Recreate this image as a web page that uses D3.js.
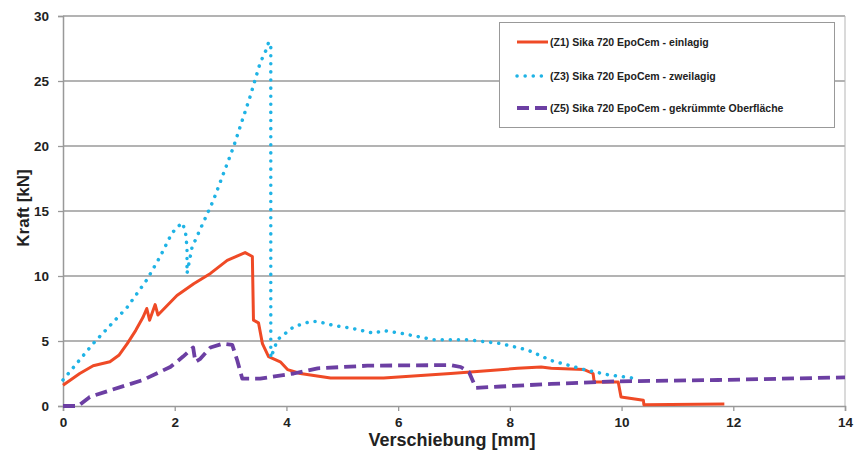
<!DOCTYPE html>
<html>
<head>
<meta charset="utf-8">
<script src="https://cdn.jsdelivr.net/npm/d3@7"></script>
<style>
  body { margin: 0; background: #fff; }
  text { font-family: "Liberation Sans", Arial, sans-serif; font-weight: bold; }
</style>
</head>
<body>
<svg id="chart" width="854" height="458"></svg>
<script>
// Kraft-Verschiebung: [Verschiebung mm, Kraft kN]
const z1 = [[0,1.6],[0.3,2.5],[0.54,3.1],[0.84,3.4],[1.0,3.9],[1.15,4.8],[1.3,5.8],[1.43,6.8],[1.5,7.5],[1.55,6.6],[1.65,7.8],[1.7,7.0],
  [2.04,8.5],[2.34,9.4],[2.64,10.2],[2.94,11.2],[3.26,11.8],[3.39,11.5],[3.41,6.6],[3.5,6.4],[3.57,4.8],[3.68,3.8],
  [3.89,3.4],[4.02,2.8],[4.25,2.5],[4.79,2.15],[5.74,2.15],[6.94,2.5],[8.14,2.9],[8.56,3.0],[8.74,2.9],[9.33,2.8],
  [9.49,2.5],[9.51,1.85],[9.94,1.85],[9.99,0.7],[10.39,0.45],[10.4,0.1],[11.84,0.15]]
const z3 = [[0,2.0],[0.54,4.8],[1.15,7.6],[1.5,9.7],[1.74,11.5],[1.95,13.3],[2.13,14.1],[2.19,13.5],[2.22,12.2],
  [2.22,10.2],[2.31,12.2],[2.51,14.1],[2.69,15.8],[3.05,19.9],[3.35,23.8],[3.53,26.4],[3.66,27.6],[3.68,28.0],
  [3.72,27.8],[3.72,3.7],[3.84,5.1],[4.13,6.1],[4.43,6.5],[4.56,6.5],[4.84,6.2],[5.15,6.0],[5.56,5.6],[5.74,5.8],
  [6.04,5.6],[6.64,5.1],[7.25,5.1],[7.84,4.8],[8.32,4.3],[8.74,3.5],[9.33,2.8],[9.76,2.4],[10.2,2.15]]
const z5 = [[0,0],[0.27,0],[0.48,0.7],[0.84,1.2],[1.43,2.0],[1.92,3.0],[2.15,3.8],[2.33,4.5],[2.37,3.4],[2.45,3.6],
  [2.64,4.5],[2.87,4.8],[3.03,4.7],[3.12,3.5],[3.21,2.1],[3.53,2.1],[4.13,2.5],[4.56,2.9],[5.45,3.1],[6.94,3.15],
  [7.12,3.0],[7.27,2.6],[7.33,2.0],[7.39,1.4],[7.84,1.5],[8.74,1.7],[9.94,1.9],[11.73,2.0],[14,2.2]]

const seriesNames = ['(Z1) Sika 720 EpoCem - einlagig', '(Z3) Sika 720 EpoCem - zweilagig', '(Z5) Sika 720 EpoCem - gekrümmte Oberfläche']
const xTicks = [0, 2, 4, 6, 8, 10, 12, 14]
const yTicks = [0, 5, 10, 15, 20, 25, 30]

const series = [
  { name: seriesNames[0], data: z1, color: '#ef4a26', width: 3, dash: null, cap: 'butt' },
  { name: seriesNames[1], data: z3, color: '#1fb3e5', width: 3.5, dash: '0.1 8', cap: 'round' },
  { name: seriesNames[2], data: z5, color: '#6c3fa3', width: 3.8, dash: '12 6', cap: 'butt' }
]

let svg = d3.select('#chart')
let plotLeft = 63, plotTop = 16, plotRight = 845, plotBottom = 406

let x = d3.scaleLinear().domain([0, 14]).range([plotLeft, plotRight])
let y = d3.scaleLinear().domain([0, 30]).range([plotBottom, plotTop])

// gridlines
svg.append('g')
  .selectAll('line')
  .data(yTicks.filter(d => d > 0))
  .enter().append('line')
  .attr('x1', plotLeft).attr('x2', plotRight)
  .attr('y1', d => y(d)).attr('y2', d => y(d))
  .attr('stroke', '#9a9a9a')
  .attr('stroke-width', 1.3)

// right frame
svg.append('line')
  .attr('x1', plotRight).attr('x2', plotRight).attr('y1', plotTop).attr('y2', plotBottom)
  .attr('stroke', '#b5b5b5').attr('stroke-width', 1)

let xAxis = svg.append('g')
  .attr('transform', `translate(0,${plotBottom})`)
  .call(d3.axisBottom(x).tickValues(xTicks).tickSize(5).tickPadding(6))
let yAxis = svg.append('g')
  .attr('transform', `translate(${plotLeft},0)`)
  .call(d3.axisLeft(y).tickValues(yTicks).tickSize(5).tickPadding(9))

;[xAxis, yAxis].forEach(a => {
  a.select('.domain').attr('stroke', '#999').attr('stroke-width', 1.5)
  a.selectAll('.tick line').attr('stroke', '#999').attr('stroke-width', 1.3)
  a.selectAll('.tick text')
    .attr('fill', '#222')
    .style('font-size', '13.5px')
    .style('font-family', '"Liberation Sans", Arial, sans-serif')
    .style('font-weight', 'bold')
})

// lines
let line = d3.line().x(d => x(d[0])).y(d => y(d[1]))

svg.append('g')
  .selectAll('path')
  .data(series)
  .enter().append('path')
  .attr('d', s => line(s.data))
  .attr('fill', 'none')
  .attr('stroke', s => s.color)
  .attr('stroke-width', s => s.width)
  .attr('stroke-dasharray', s => s.dash)
  .attr('stroke-linecap', s => s.cap)
  .attr('stroke-linejoin', 'round')

// axis titles
svg.append('text')
  .attr('x', (plotLeft + plotRight) / 2 - 2)
  .attr('y', 446)
  .attr('text-anchor', 'middle')
  .attr('font-size', 18)
  .attr('fill', '#222')
  .text('Verschiebung [mm]')

svg.append('text')
  .attr('transform', 'translate(29,208) rotate(-90)')
  .attr('text-anchor', 'middle')
  .attr('font-size', 17)
  .attr('fill', '#222')
  .text('Kraft [kN]')

// legend
let legend = svg.append('g')
legend.append('rect')
  .attr('x', 499.5).attr('y', 22.5)
  .attr('width', 335).attr('height', 105)
  .attr('fill', '#fff')
  .attr('stroke', '#999')
  .attr('stroke-width', 1)

let items = legend.selectAll('g.item')
  .data(series)
  .enter().append('g')
  .attr('class', 'item')
  .attr('transform', (s, i) => `translate(517,${[42, 76, 108][i]})`)

items.append('line')
  .attr('x1', 0).attr('x2', 31)
  .attr('stroke', s => s.color)
  .attr('stroke-width', s => s.width)
  .attr('stroke-dasharray', s => s.dash)
  .attr('stroke-linecap', s => s.cap)

items.append('text')
  .attr('x', 33)
  .attr('dy', '0.35em')
  .attr('font-size', 10.5)
  .attr('fill', '#222')
  .text(s => s.name)
</script>
</body>
</html>
